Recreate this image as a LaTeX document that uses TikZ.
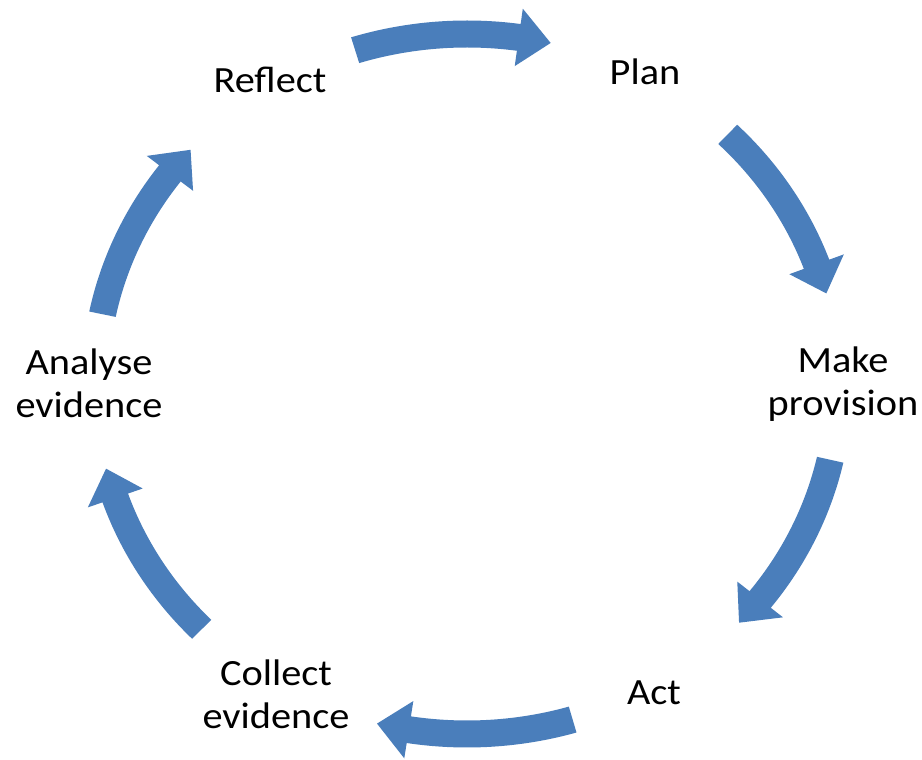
\documentclass[tikz,border=0pt]{standalone}
\usepackage{fontspec}
\setmainfont{Carlito}[FakeStretch=1.09]
\definecolor{cycblue}{RGB}{74,126,187}
\tikzset{
  lbl/.style={font=\fontsize{37}{43}\selectfont, text=black, align=center, inner sep=0pt},
  blockarrow/.style={fill=cycblue, draw=none}
}
\begin{document}
\begin{tikzpicture}[x=1pt,y=1pt]
\useasboundingbox (0,0) rectangle (922,760);
\def\cx{467}\def\cy{376}\def\rx{372}\def\ry{350}
\def\w{13.5}\def\H{29}
\foreach \c in {91,29,-29,-90,-152,152}{
  \pgfmathsetmacro\ta{\c+16.5}
  \pgfmathsetmacro\tb{\c-9}
  \pgfmathsetmacro\tc{\c-14}
  \pgfmathsetmacro\ro{\rx+\w}\pgfmathsetmacro\so{\ry+\w}
  \pgfmathsetmacro\ri{\rx-\w}\pgfmathsetmacro\si{\ry-\w}
  \fill[blockarrow]
    ({\cx+\ro*cos(\ta)},{\cy+\so*sin(\ta)})
    arc[start angle=\ta, end angle=\tb, x radius=\ro, y radius=\so]
    -- ({\cx+(\rx+\H)*cos(\tb)},{\cy+(\ry+\H)*sin(\tb)})
    -- ({\cx+\rx*cos(\tc)},{\cy+\ry*sin(\tc)})
    -- ({\cx+(\rx-\H)*cos(\tb)},{\cy+(\ry-\H)*sin(\tb)})
    -- ({\cx+\ri*cos(\tb)},{\cy+\si*sin(\tb)})
    arc[start angle=\tb, end angle=\ta, x radius=\ri, y radius=\si]
    -- cycle;
}
\node[lbl, anchor=base] (plan) at (645,675) {Plan};
\node[lbl] (make) at (843,376) {Make\\provision};
\node[lbl, anchor=base] (act) at (654,55) {Act};
\node[lbl] (collect) at (276,66) {Collect\\evidence};
\node[lbl] (analyse) at (89,377) {Analyse\\evidence};
\node[lbl, anchor=base] (reflect) at (270,667) {Reflect};
\end{tikzpicture}
\end{document}
